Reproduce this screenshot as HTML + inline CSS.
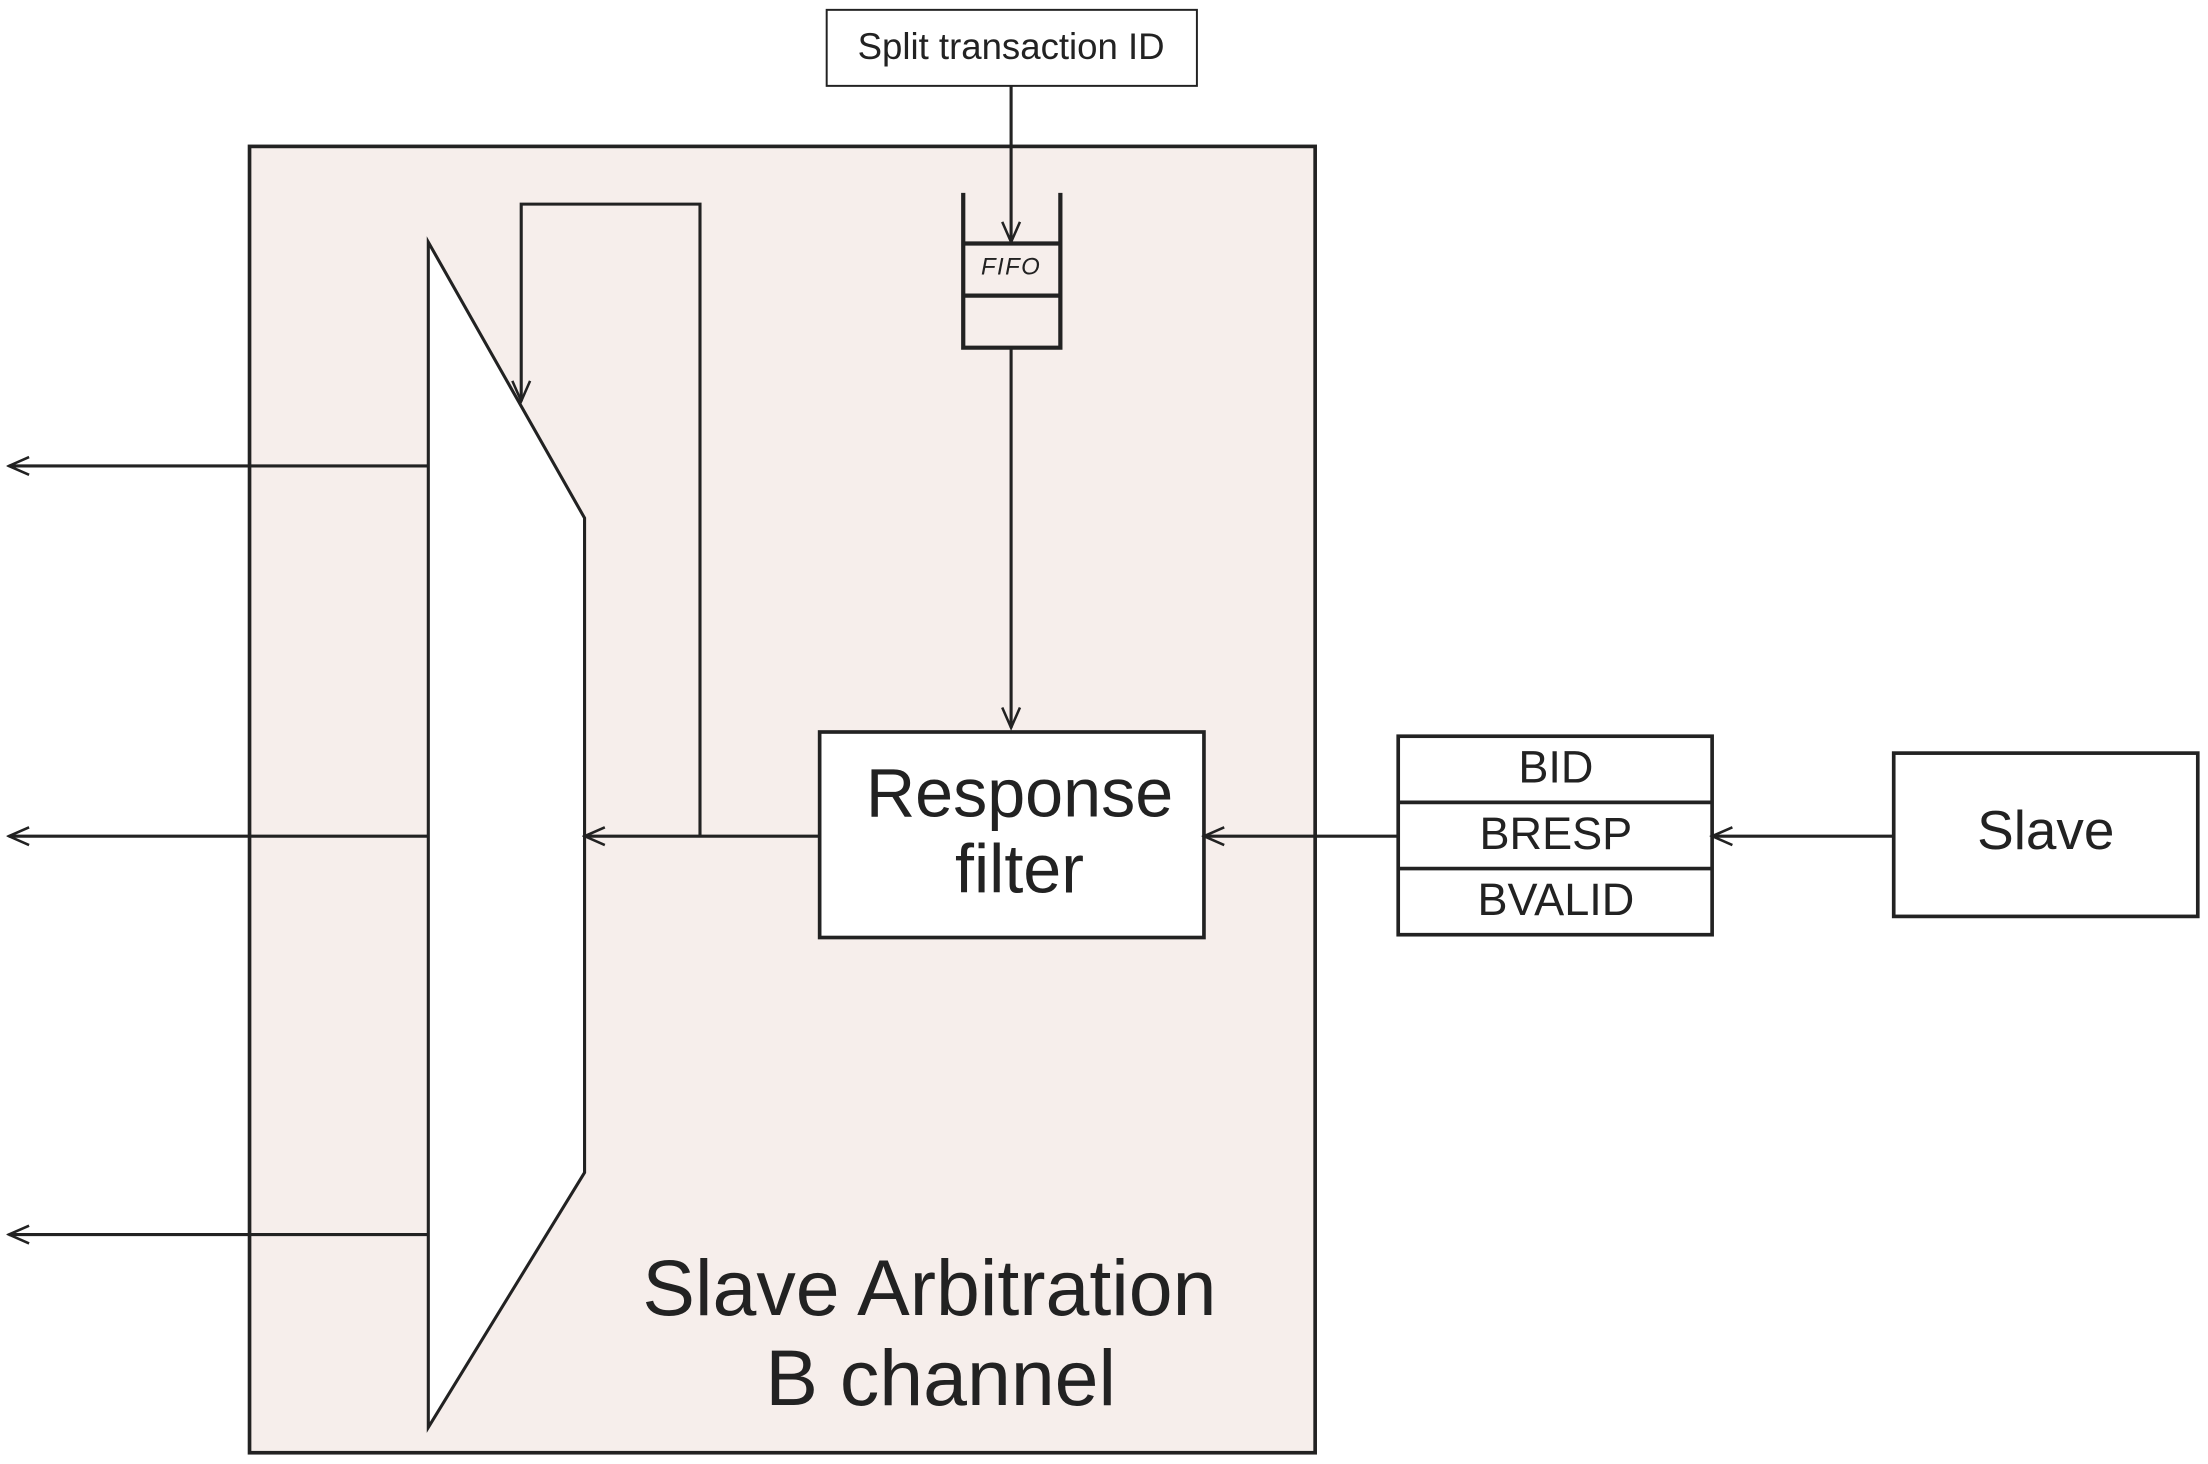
<!DOCTYPE html>
<html><head><meta charset="utf-8"><style>html,body{margin:0;padding:0;background:#fff}svg{display:block}text{font-family:"Liberation Sans",sans-serif;fill:#222}</style></head><body>
<svg width="2208" height="1464" viewBox="0 0 1568 1040" xmlns="http://www.w3.org/2000/svg">
<defs><marker id="a" viewBox="0 0 20 20" refX="18" refY="10" markerWidth="18" markerHeight="18" markerUnits="userSpaceOnUse" orient="auto"><path d="M2,3 L18,10 L2,17" fill="none" stroke="#222" stroke-width="2"/></marker></defs>
<g stroke="#222" stroke-width="2.2" fill="none">
<rect x="177" y="104" width="757" height="928" fill="#f6eeeb" stroke-width="2.6"/>
<rect x="587" y="7" width="263" height="54" fill="#fff" stroke-width="1.4"/>
<polygon points="304,172 415,368 415,833 304,1014" fill="#fff"/>
<polyline points="497,594 497,145 370,145 370,285" marker-end="url(#a)"/>
<line x1="304" y1="331" x2="6" y2="331" marker-end="url(#a)"/>
<line x1="304" y1="594" x2="6" y2="594" marker-end="url(#a)"/>
<line x1="304" y1="877" x2="6" y2="877" marker-end="url(#a)"/>
<line x1="582" y1="594" x2="415" y2="594" marker-end="url(#a)"/>
<path d="M684,137 L684,247 L753,247 L753,137 M684,173 L753,173 M684,210 L753,210" stroke-width="3"/>
<line x1="718" y1="61" x2="718" y2="172" marker-end="url(#a)"/>
<line x1="718" y1="247" x2="718" y2="517" marker-end="url(#a)"/>
<rect x="582" y="520" width="273" height="146" fill="#fff" stroke-width="2.6"/>
<line x1="993" y1="594" x2="855" y2="594" marker-end="url(#a)"/>
<rect x="993" y="523" width="223" height="141" fill="#fff" stroke-width="2.6"/>
<line x1="993" y1="570" x2="1216" y2="570" stroke-width="2.6"/>
<line x1="993" y1="617" x2="1216" y2="617" stroke-width="2.6"/>
<line x1="1345" y1="594" x2="1216" y2="594" marker-end="url(#a)"/>
<rect x="1345" y="535" width="216" height="116" fill="#fff" stroke-width="2.6"/>
</g>
<text x="718" y="42" font-size="26" text-anchor="middle">Split transaction ID</text>
<text x="718" y="195" font-size="17" text-anchor="middle" font-style="italic" letter-spacing="1">FIFO</text>
<text x="724" y="580" font-size="48.5" text-anchor="middle">Response</text>
<text x="724" y="634" font-size="48.5" text-anchor="middle">filter</text>
<text x="1105" y="556" font-size="32" text-anchor="middle">BID</text>
<text x="1105" y="603" font-size="32" text-anchor="middle">BRESP</text>
<text x="1105" y="650" font-size="32" text-anchor="middle">BVALID</text>
<text x="1453" y="603" font-size="39" text-anchor="middle">Slave</text>
<text x="660" y="934" font-size="56" text-anchor="middle">Slave Arbitration</text>
<text x="668" y="998" font-size="56" text-anchor="middle">B channel</text>
</svg>
</body></html>
